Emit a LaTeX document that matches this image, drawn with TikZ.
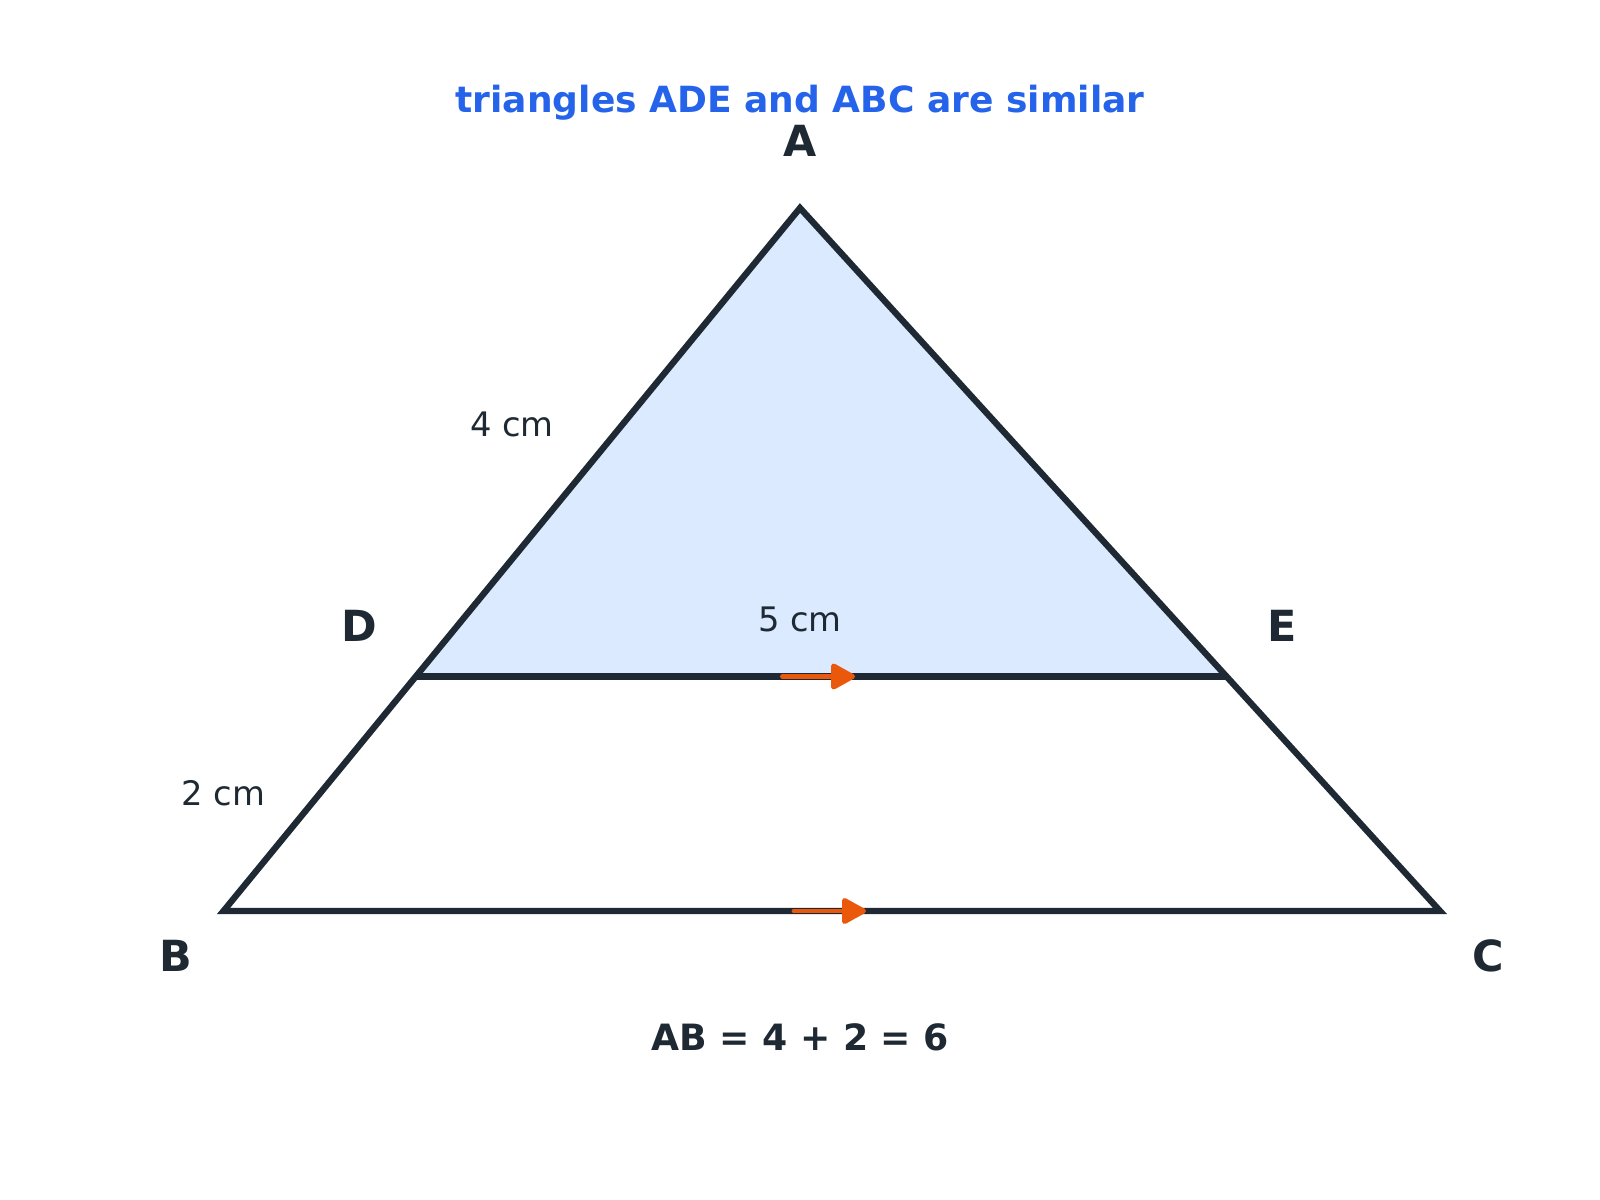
\documentclass[tikz,border=0pt]{standalone}
\usepackage{fontspec}
\setmainfont{DejaVu Sans}
\usetikzlibrary{arrows.meta}
\definecolor{ink}{HTML}{1F2933}
\definecolor{fillblue}{HTML}{DBEAFE}
\definecolor{orng}{HTML}{EA580C}
\definecolor{titleblue}{HTML}{2563EB}
\tikzset{
  edge/.style={draw=ink, line width=1.8pt, line join=miter},
  vlabel/.style={text=ink, font=\fontsize{12.2}{14}\selectfont\bfseries, inner sep=0pt},
  lenlabel/.style={text=ink, font=\fontsize{9.6}{12}\selectfont, inner sep=0pt},
  parmark/.style={draw=orng, line width=1.4pt, line cap=round, -{Triangle[round, length=7.6pt, width=8pt]}},
}
\begin{document}
\begin{tikzpicture}[x=0.01cm, y=-0.01cm]
  \useasboundingbox (0,0) rectangle (1600,1200);
  \coordinate (A) at (800,208);
  \coordinate (B) at (223.5,911);
  \coordinate (C) at (1440,911);
  \coordinate (D) at (416,676.5);
  \coordinate (E) at (1226.5,676.5);
  \fill[fillblue] (A) -- (D) -- (E) -- cycle;
  \draw[edge] (A) -- (B) -- (C) -- cycle;
  \draw[edge] (D) -- (E);
  \coordinate (m1s) at (782.5,676.5);
  \coordinate (m1e) at (855,676.5);
  \coordinate (m2s) at (794,911);
  \coordinate (m2e) at (866,911);
  \draw[parmark] (m1s) -- (m1e);
  \draw[parmark] (m2s) -- (m2e);
  \node[text=titleblue, font=\fontsize{10.25}{13}\selectfont\bfseries, inner sep=0pt] (title) at (800,103) {triangles ADE and ABC are similar};
  \node[vlabel] (lA) at (800,141) {A};
  \node[vlabel] (lB) at (175.5,956) {B};
  \node[vlabel] (lC) at (1488,956) {C};
  \node[vlabel] (lD) at (359.5,625.5) {D};
  \node[vlabel] (lE) at (1282,625.5) {E};
  \node[lenlabel] (l4) at (512,424.5) {4 cm};
  \node[lenlabel] (l2) at (223.5,793) {2 cm};
  \node[lenlabel] (l5) at (800,619) {5 cm};
  \node[text=ink, font=\fontsize{10.3}{13}\selectfont\bfseries, inner sep=0pt] (eq) at (800,1037) {AB = 4 + 2 = 6};
\end{tikzpicture}
\end{document}
